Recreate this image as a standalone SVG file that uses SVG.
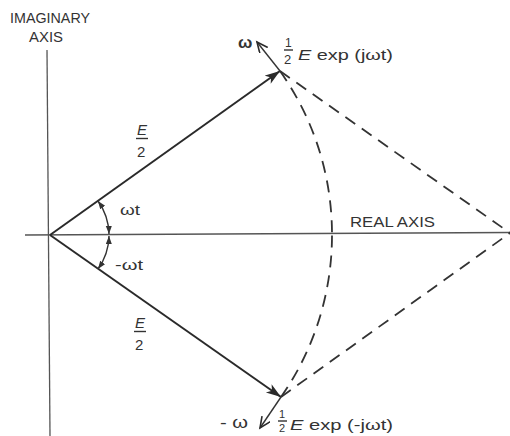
<svg xmlns="http://www.w3.org/2000/svg" width="510" height="436" viewBox="0 0 510 436">
<style>
  .ax{stroke:#555;stroke-width:1.3;fill:none}
  .vec{stroke:#2a2a2a;stroke-width:2;fill:none}
  .dash{stroke:#333;stroke-width:1.8;fill:none;stroke-dasharray:12 8}
  .thin{stroke:#333;stroke-width:1.4;fill:none}
  text{font-family:"Liberation Sans","DejaVu Sans",sans-serif;fill:#333}
  .lbl{font-size:15px}
  .it{font-style:italic}
</style>
<defs>
  <marker id="big" markerUnits="userSpaceOnUse" markerWidth="18" markerHeight="12" refX="15" refY="5" orient="auto">
    <path d="M0,0 L15,5 L0,10 L4,5 Z" fill="#2a2a2a"/>
  </marker>
  <marker id="open" markerUnits="userSpaceOnUse" markerWidth="14" markerHeight="12" refX="11" refY="5" orient="auto">
    <path d="M0,0 L11,5 L0,10" fill="none" stroke="#2a2a2a" stroke-width="1.6"/>
  </marker>
  <marker id="small" markerUnits="userSpaceOnUse" markerWidth="10" markerHeight="8" refX="8" refY="3" orient="auto-start-reverse">
    <path d="M0,0 L8,3 L0,6 Z" fill="#333"/>
  </marker>
</defs>

<g id="axes">
  <line class="ax" x1="47" y1="50" x2="50" y2="436"/>
  <line class="ax" x1="25" y1="235" x2="510" y2="232.5"/>
</g>

<g id="connectors">
  <line id="v-upper" class="vec" x1="50" y1="235" x2="280" y2="71" marker-end="url(#big)"/>
  <line id="v-lower" class="vec" x1="50" y1="235" x2="281" y2="397" marker-end="url(#big)"/>
  <line id="w-upper" class="thin" x1="280" y1="71" x2="257" y2="42" marker-end="url(#open)"/>
  <line id="w-lower" class="thin" x1="281" y1="397" x2="260" y2="428" marker-end="url(#open)"/>
  <path id="arc-up" class="dash" d="M280,71 A282,282 0 0 1 332,234"/>
  <path id="arc-down" class="dash" d="M281,397 A282,282 0 0 0 332,234"/>
  <line id="par-up" class="dash" x1="280" y1="71" x2="510" y2="233"/>
  <line id="par-down" class="dash" x1="281" y1="397" x2="510" y2="233"/>
  <path id="ang-up" class="thin" d="M109,234 A59,59 0 0 0 98,201" marker-start="url(#small)" marker-end="url(#small)"/>
  <path id="ang-down" class="thin" d="M109,236 A59,59 0 0 1 98,269" marker-start="url(#small)" marker-end="url(#small)"/>
</g>

<g id="label-imag">
  <text class="lbl" x="10" y="23" textLength="80" lengthAdjust="spacingAndGlyphs">IMAGINARY</text>
  <text class="lbl" x="29" y="42" textLength="34" lengthAdjust="spacingAndGlyphs">AXIS</text>
</g>
<g id="label-real">
  <text class="lbl" x="350" y="227" textLength="85" lengthAdjust="spacingAndGlyphs">REAL AXIS</text>
</g>
<g id="label-wt">
  <text class="lbl" x="120" y="215" textLength="20" lengthAdjust="spacingAndGlyphs">ωt</text>
  <text class="lbl" x="115" y="270" textLength="28" lengthAdjust="spacingAndGlyphs">-ωt</text>
</g>
<g id="label-e2-upper">
  <text class="lbl it" x="137" y="135">E</text>
  <line class="thin" x1="136" y1="138.5" x2="148" y2="138.5"/>
  <text class="lbl" x="137" y="157">2</text>
</g>
<g id="label-e2-lower">
  <text class="lbl it" x="135" y="328">E</text>
  <line class="thin" x1="134" y1="331.5" x2="146" y2="331.5"/>
  <text class="lbl" x="135" y="350">2</text>
</g>
<g id="label-upper">
  <text x="238" y="48" style="font-size:17px;font-weight:bold">ω</text>
  <text x="285" y="47" style="font-size:12px">1</text>
  <line class="thin" x1="284" y1="50" x2="293" y2="50"/>
  <text x="284" y="64" style="font-size:13px">2</text>
  <text class="lbl" x="298" y="60" textLength="95" lengthAdjust="spacingAndGlyphs"><tspan class="it">E</tspan> exp (jωt)</text>
</g>
<g id="label-lower">
  <text x="220" y="428" style="font-size:16px" textLength="28" lengthAdjust="spacingAndGlyphs">- ω</text>
  <text x="279" y="418" style="font-size:11px">1</text>
  <line class="thin" x1="278" y1="421" x2="287" y2="421"/>
  <text x="279" y="432" style="font-size:11px">2</text>
  <text class="lbl" x="290" y="430" textLength="103" lengthAdjust="spacingAndGlyphs"><tspan class="it">E</tspan> exp (-jωt)</text>
</g>
</svg>
